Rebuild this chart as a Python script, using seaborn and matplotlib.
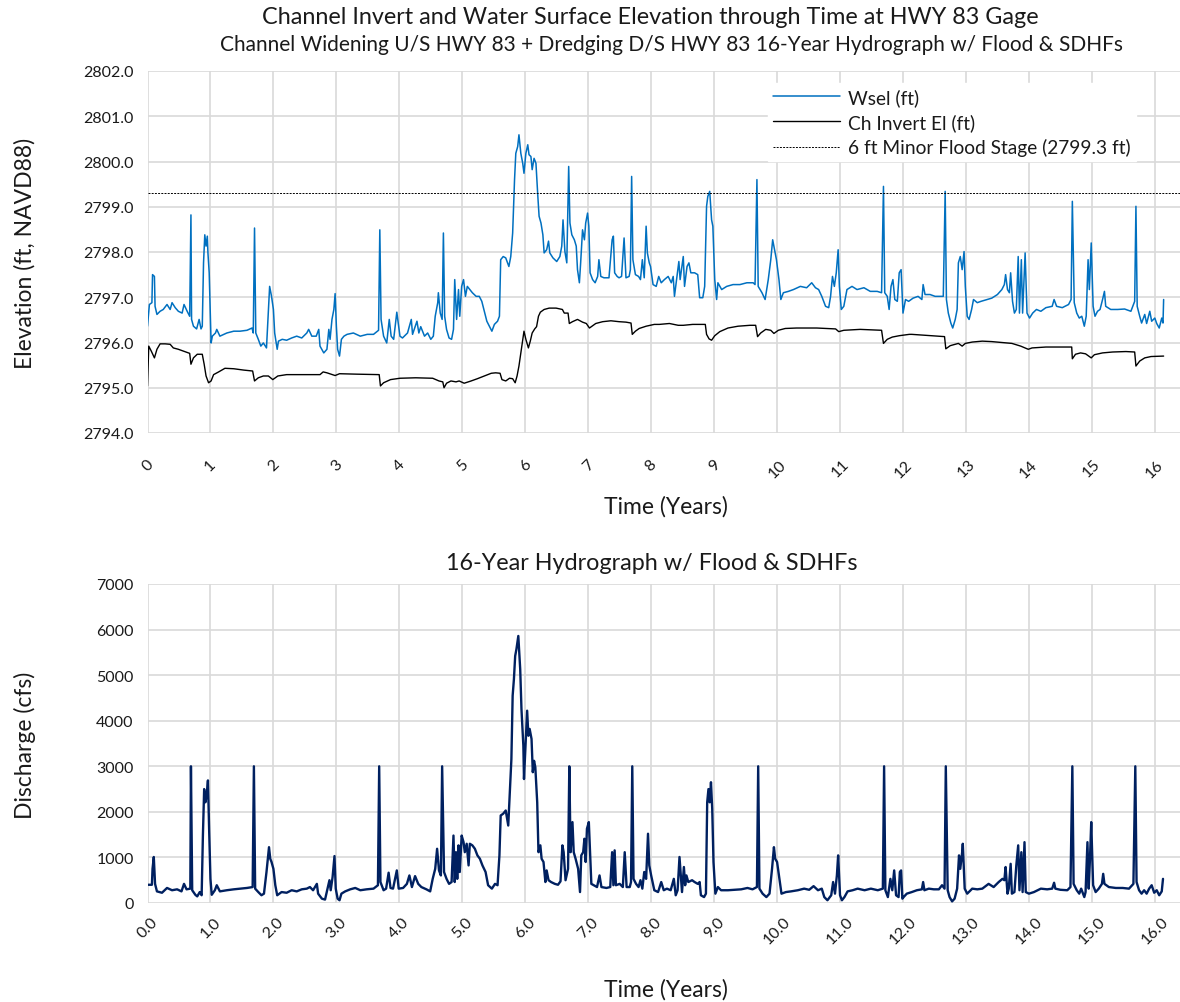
import matplotlib
matplotlib.use("Agg")
import matplotlib.pyplot as plt
import seaborn as sns
import pandas as pd
import numpy as np

# ---------------- data ----------------
wsel_t = [
    0.00, 0.03, 0.07, 0.08, 0.11, 0.12, 0.15, 0.20, 0.25, 0.31,
    0.36, 0.39, 0.44, 0.49, 0.55, 0.58, 0.63, 0.67, 0.69, 0.70,
    0.73, 0.78, 0.82, 0.85, 0.87, 0.89, 0.91, 0.93, 0.95, 0.96,
    0.98, 1.01, 1.03, 1.08, 1.10, 1.15, 1.26, 1.37, 1.47, 1.58,
    1.66, 1.68, 1.70, 1.72, 1.76, 1.80, 1.84, 1.89, 1.91, 1.94,
    1.97, 2.00, 2.02, 2.06, 2.08, 2.14, 2.21, 2.29, 2.37, 2.45,
    2.53, 2.56, 2.61, 2.68, 2.72, 2.74, 2.80, 2.85, 2.88, 2.90,
    2.93, 2.96, 2.98, 3.00, 3.02, 3.05, 3.08, 3.12, 3.17, 3.27,
    3.38, 3.49, 3.59, 3.67, 3.69, 3.71, 3.75, 3.80, 3.84, 3.87,
    3.91, 3.96, 4.01,
    4.05, 4.13, 4.19, 4.21, 4.28, 4.31, 4.34, 4.40, 4.45, 4.50,
    4.54, 4.57, 4.61, 4.62, 4.65, 4.68, 4.70, 4.72, 4.75, 4.79,
    4.83, 4.86, 4.88, 4.91, 4.94, 4.96, 4.99, 5.02, 5.05, 5.08,
    5.12, 5.16, 5.22, 5.27, 5.31, 5.35, 5.39, 5.43, 5.47, 5.51,
    5.56, 5.59, 5.61, 5.65, 5.69, 5.74, 5.77, 5.80, 5.83, 5.85,
    5.88, 5.90, 5.93, 5.96, 5.98, 6.01, 6.04, 6.06, 6.09, 6.11,
    6.14, 6.17, 6.20, 6.22, 6.25, 6.28, 6.30, 6.34, 6.37, 6.39,
    6.44, 6.50, 6.55, 6.58, 6.60, 6.63, 6.66, 6.69, 6.71, 6.74,
    6.78, 6.81, 6.83, 6.86, 6.88, 6.91, 6.94, 6.96, 6.99, 7.01,
    7.03, 7.07, 7.11, 7.15, 7.17, 7.20, 7.25, 7.33, 7.38, 7.40,
    7.42, 7.46, 7.49, 7.53, 7.57, 7.60, 7.65, 7.67, 7.69, 7.71,
    7.75, 7.80, 7.83, 7.86, 7.89, 7.92, 7.94, 7.97, 7.99,
    8.03, 8.08, 8.12, 8.16, 8.21, 8.27, 8.32, 8.35, 8.37, 8.41,
    8.44, 8.46, 8.51, 8.53, 8.57, 8.60, 8.63, 8.69, 8.74, 8.77,
    8.82, 8.85, 8.88, 8.90, 8.93, 8.96, 8.98, 9.01, 9.04, 9.06,
    9.12, 9.20, 9.30, 9.41, 9.52, 9.62, 9.65, 9.68, 9.70, 9.76,
    9.81, 9.86, 9.90, 9.93, 9.97, 9.99, 10.03, 10.06, 10.10, 10.18,
    10.26, 10.37, 10.47, 10.55, 10.61, 10.66, 10.71, 10.77, 10.82, 10.85,
    10.88, 10.91, 10.94, 10.97, 10.99, 11.02, 11.06, 11.11, 11.19, 11.27,
    11.38, 11.48, 11.59, 11.66, 11.69, 11.71, 11.75, 11.78, 11.81, 11.84,
    11.87, 11.91, 11.94, 11.97, 12.00, 12.04,
    12.09, 12.16, 12.24, 12.30, 12.32, 12.35, 12.43, 12.51, 12.59, 12.64,
    12.67, 12.69, 12.72, 12.76, 12.79, 12.83, 12.86, 12.88, 12.91, 12.94,
    12.97, 12.99, 13.02, 13.05, 13.09, 13.12, 13.18, 13.24, 13.34, 13.41,
    13.50, 13.57, 13.61, 13.63, 13.66, 13.69, 13.71, 13.74, 13.77, 13.80,
    13.83, 13.85, 13.88, 13.90, 13.94, 13.97, 14.01, 14.06, 14.12, 14.19,
    14.27, 14.37, 14.40, 14.44, 14.53, 14.63, 14.67, 14.69, 14.72, 14.76,
    14.80, 14.84, 14.88, 14.91, 14.94, 14.96, 14.99, 15.02, 15.05, 15.09,
    15.13, 15.17, 15.20, 15.22, 15.30, 15.41, 15.52, 15.62, 15.68, 15.70,
    15.72, 15.76, 15.79, 15.84, 15.87, 15.92, 15.95, 16.00, 16.03, 16.07,
    16.11, 16.13, 16.14,
]
wsel_ft = [
    2796.36, 2796.84, 2796.88, 2797.50, 2797.46, 2796.80, 2796.62, 2796.69, 2796.73, 2796.84,
    2796.73, 2796.88, 2796.77, 2796.69, 2796.65, 2796.84, 2796.69, 2796.58, 2798.82, 2796.51,
    2796.36, 2796.30, 2796.51, 2796.30, 2796.36, 2797.76, 2798.38, 2798.13, 2798.35, 2797.98,
    2797.54, 2795.99, 2796.14, 2796.21, 2796.29, 2796.14, 2796.21, 2796.25, 2796.25, 2796.27,
    2796.32, 2796.21, 2798.53, 2796.21, 2796.07, 2795.92, 2795.99, 2795.88, 2796.43, 2797.24,
    2797.02, 2796.73, 2796.21, 2795.85, 2796.03, 2796.07, 2796.05, 2796.10, 2796.14, 2796.10,
    2796.21, 2796.29, 2796.14, 2796.14, 2796.29, 2795.92, 2795.77, 2795.85, 2796.29, 2796.07,
    2796.51, 2796.73, 2797.08, 2796.36, 2795.85, 2795.70, 2796.07, 2796.14, 2796.18, 2796.21,
    2796.14, 2796.18, 2796.18, 2796.27, 2798.49, 2796.51, 2796.14, 2795.99, 2796.51, 2796.14,
    2796.07, 2796.67, 2796.14,
    2796.10, 2796.21, 2796.51, 2796.18, 2796.47, 2796.21, 2796.35, 2796.14, 2796.21, 2796.07,
    2796.14, 2796.58, 2796.88, 2797.10, 2796.65, 2796.51, 2798.42, 2796.58, 2796.29, 2796.10,
    2796.07, 2796.29, 2797.39, 2796.51, 2797.17, 2796.58, 2797.24, 2797.39, 2797.02, 2797.24,
    2797.17, 2797.10, 2797.02, 2797.02, 2796.91, 2796.69, 2796.47, 2796.36, 2796.25, 2796.40,
    2796.47, 2796.58, 2797.83, 2797.90, 2797.87, 2797.68, 2797.90, 2798.42, 2799.60, 2800.18,
    2800.33, 2800.59, 2800.18, 2799.96, 2799.74, 2800.18, 2800.37, 2800.15, 2800.11, 2799.82,
    2800.07, 2799.96, 2799.23, 2798.79, 2798.64, 2798.38, 2797.98, 2798.05, 2798.24, 2797.98,
    2797.87, 2797.79, 2797.90, 2798.13, 2798.71, 2798.01, 2797.76, 2799.89, 2798.64, 2798.38,
    2798.27, 2798.13, 2797.61, 2797.32, 2797.76, 2798.49, 2798.27, 2798.64, 2798.86, 2798.57,
    2797.54, 2797.39, 2797.32, 2797.46, 2797.83, 2797.46, 2797.43, 2797.43, 2798.27, 2798.35,
    2797.54, 2797.46, 2797.43, 2797.46, 2798.31, 2797.43, 2797.46, 2797.61, 2799.67, 2797.83,
    2797.50, 2797.46, 2797.39, 2797.83, 2797.43, 2798.57, 2797.98, 2797.76, 2797.68,
    2797.28, 2797.24, 2797.46, 2797.32, 2797.39, 2797.46, 2797.32, 2797.46, 2797.02, 2797.46,
    2797.79, 2797.39, 2797.90, 2797.24, 2797.68, 2797.76, 2797.54, 2797.54, 2797.50, 2796.99,
    2796.99, 2797.24, 2799.01, 2799.23, 2799.34, 2798.71, 2798.57, 2797.39, 2796.95, 2797.32,
    2797.17, 2797.24, 2797.28, 2797.28, 2797.32, 2797.32, 2797.28, 2799.60, 2797.24, 2797.10,
    2796.95, 2797.39, 2797.83, 2798.27, 2797.98, 2797.83, 2797.39, 2796.95, 2797.10, 2797.13,
    2797.17, 2797.24, 2797.21, 2797.32, 2797.21, 2797.17, 2797.02, 2796.80, 2796.77, 2797.02,
    2797.46, 2797.24, 2797.54, 2798.05, 2797.24, 2796.73, 2796.80, 2797.17, 2797.24, 2797.17,
    2797.21, 2797.13, 2797.13, 2797.10, 2799.45, 2797.10, 2797.02, 2796.73, 2797.24, 2797.39,
    2796.95, 2796.91, 2797.54, 2797.61, 2796.65, 2796.95,
    2796.91, 2796.98, 2797.02, 2796.95, 2797.28, 2797.06, 2797.06, 2797.02, 2797.02, 2797.02,
    2799.34, 2796.95, 2796.65, 2796.43, 2796.32, 2796.51, 2796.73, 2797.76, 2797.90, 2797.61,
    2798.01, 2797.24, 2796.58, 2796.51, 2796.73, 2796.95, 2796.88, 2796.91, 2796.95, 2796.98,
    2797.06, 2797.17, 2797.28, 2797.50, 2797.17, 2797.10, 2797.54, 2796.91, 2796.65, 2796.73,
    2797.90, 2796.65, 2797.83, 2796.65, 2797.98, 2796.65, 2796.54, 2796.65, 2796.73, 2796.69,
    2796.77, 2796.80, 2796.95, 2796.80, 2796.77, 2796.84, 2796.95, 2799.12, 2796.88, 2796.65,
    2796.54, 2796.58, 2796.36, 2796.58, 2797.83, 2797.17, 2798.20, 2796.80, 2796.58, 2796.69,
    2796.73, 2796.95, 2797.13, 2796.80, 2796.73, 2796.73, 2796.74, 2796.69, 2796.91, 2799.01,
    2796.80, 2796.58, 2796.43, 2796.62, 2796.42, 2796.69, 2796.47, 2796.54, 2796.42, 2796.32,
    2796.54, 2796.43, 2796.95,
]

invert_t = [
    0.00, 0.02, 0.06, 0.11, 0.15, 0.20, 0.28, 0.36, 0.41, 0.49,
    0.57, 0.67, 0.69, 0.73, 0.79, 0.87, 0.90, 0.93, 0.97, 1.01,
    1.05, 1.13, 1.23, 1.37, 1.53, 1.67, 1.70, 1.76, 1.84, 1.92,
    1.99, 2.07, 2.21, 2.53, 2.74, 2.79, 2.85, 2.98, 3.05, 3.33,
    3.68, 3.70, 3.75, 3.86, 4.01, 4.26, 4.53, 4.63, 4.69, 4.71,
    4.75, 4.82, 4.90, 4.95, 5.03, 5.14, 5.24, 5.35, 5.46, 5.53,
    5.60, 5.63, 5.69, 5.75, 5.80, 5.84, 5.87, 5.90, 5.93, 5.96,
    5.98, 6.01, 6.05, 6.08, 6.11, 6.15, 6.18, 6.21, 6.24, 6.30,
    6.38, 6.49, 6.59, 6.62, 6.68, 6.70, 6.75, 6.83, 6.91, 6.97,
    7.02, 7.06, 7.12, 7.23, 7.36, 7.49, 7.60, 7.68, 7.70, 7.75,
    7.81, 7.92, 8.05, 8.13, 8.29, 8.43, 8.51, 8.66, 8.86, 8.88,
    8.92, 8.96, 9.01, 9.09, 9.22, 9.38, 9.57, 9.66, 9.69, 9.74,
    9.82, 9.90, 9.95, 10.02, 10.13, 10.31, 10.63, 10.93, 10.98, 11.06,
    11.32, 11.66, 11.69, 11.75, 11.83, 11.94, 12.10, 12.14, 12.35, 12.56,
    12.66, 12.68, 12.75, 12.88, 12.94, 12.99, 13.10, 13.26, 13.41, 13.57,
    13.73, 13.87, 13.99, 14.05, 14.27, 14.48, 14.68, 14.69, 14.74, 14.82,
    14.90, 14.99, 15.04, 15.17, 15.33, 15.54, 15.68, 15.70, 15.76, 15.84,
    15.94, 16.14,
]
invert_ft = [
    2795.04, 2795.92, 2795.81, 2795.66, 2795.85, 2795.97, 2795.97, 2795.96, 2795.88, 2795.85,
    2795.81, 2795.76, 2795.52, 2795.66, 2795.74, 2795.74, 2795.52, 2795.26, 2795.11, 2795.15,
    2795.29, 2795.35, 2795.43, 2795.42, 2795.39, 2795.37, 2795.15, 2795.22, 2795.26, 2795.26,
    2795.18, 2795.26, 2795.29, 2795.29, 2795.29, 2795.35, 2795.33, 2795.27, 2795.31, 2795.30,
    2795.29, 2795.04, 2795.11, 2795.18, 2795.21, 2795.22, 2795.21, 2795.15, 2795.13, 2795.00,
    2795.10, 2795.15, 2795.13, 2795.15, 2795.10, 2795.15, 2795.20, 2795.26, 2795.32, 2795.33,
    2795.32, 2795.18, 2795.15, 2795.21, 2795.20, 2795.11, 2795.26, 2795.48, 2795.77, 2796.07,
    2796.25, 2796.07, 2795.88, 2796.03, 2796.21, 2796.30, 2796.35, 2796.58, 2796.67, 2796.73,
    2796.76, 2796.76, 2796.73, 2796.65, 2796.65, 2796.42, 2796.46, 2796.51, 2796.45, 2796.42,
    2796.32, 2796.36, 2796.42, 2796.46, 2796.48, 2796.46, 2796.45, 2796.43, 2796.18, 2796.25,
    2796.31, 2796.36, 2796.40, 2796.40, 2796.42, 2796.38, 2796.38, 2796.40, 2796.40, 2796.18,
    2796.08, 2796.05, 2796.15, 2796.24, 2796.32, 2796.36, 2796.38, 2796.38, 2796.13, 2796.21,
    2796.29, 2796.27, 2796.20, 2796.27, 2796.31, 2796.32, 2796.32, 2796.30, 2796.24, 2796.27,
    2796.29, 2796.27, 2795.98, 2796.07, 2796.12, 2796.15, 2796.18, 2796.18, 2796.16, 2796.14,
    2796.13, 2795.86, 2795.93, 2795.98, 2795.92, 2795.98, 2796.01, 2796.03, 2796.02, 2796.00,
    2795.98, 2795.92, 2795.85, 2795.88, 2795.90, 2795.90, 2795.90, 2795.64, 2795.74, 2795.77,
    2795.75, 2795.66, 2795.73, 2795.77, 2795.79, 2795.80, 2795.79, 2795.48, 2795.59, 2795.66,
    2795.69, 2795.70,
]

flood_stage_ft = 2799.3

q_t = [
    0.00, 0.07, 0.08, 0.10, 0.12, 0.15, 0.23, 0.31, 0.39, 0.47,
    0.54, 0.58, 0.62, 0.68, 0.69, 0.71, 0.76, 0.79, 0.83, 0.86,
    0.88, 0.90, 0.92, 0.94, 0.96, 0.98, 1.00, 1.02, 1.07, 1.10,
    1.15, 1.26, 1.37, 1.47, 1.58, 1.67, 1.69, 1.71, 1.76, 1.81,
    1.85, 1.89, 1.93, 1.95, 1.97, 2.00, 2.03, 2.06, 2.13, 2.21,
    2.29, 2.37, 2.45, 2.53, 2.58, 2.63, 2.69, 2.71, 2.77, 2.82,
    2.86, 2.89, 2.91, 2.94, 2.97, 2.99, 3.02, 3.05, 3.08, 3.14,
    3.22, 3.30, 3.38, 3.48, 3.59, 3.66, 3.68, 3.70, 3.75, 3.79,
    3.83, 3.86, 3.90, 3.96, 3.99, 4.06, 4.12, 4.16, 4.20, 4.25,
    4.30, 4.35, 4.43, 4.49, 4.53, 4.57, 4.60, 4.63, 4.66, 4.68,
    4.71, 4.75, 4.79, 4.83, 4.86, 4.88, 4.90, 4.92, 4.94, 4.96,
    4.99, 5.02, 5.04, 5.07, 5.10, 5.12, 5.16, 5.20, 5.24, 5.28,
    5.32, 5.37, 5.41, 5.47, 5.52, 5.56, 5.59, 5.61, 5.65, 5.69,
    5.73, 5.76, 5.78, 5.80, 5.82, 5.84, 5.86, 5.89, 5.92, 5.94,
    5.97, 5.98, 6.01, 6.03, 6.05,
    6.07, 6.10, 6.12, 6.14, 6.16, 6.19, 6.21, 6.24, 6.26, 6.29,
    6.32, 6.34, 6.37, 6.41, 6.47, 6.52, 6.56, 6.59, 6.61, 6.64,
    6.68, 6.70, 6.72, 6.75, 6.77, 6.80, 6.84, 6.87, 6.89, 6.92,
    6.94, 6.96, 6.98, 7.01, 7.03, 7.05, 7.09, 7.14, 7.18, 7.21,
    7.29, 7.35, 7.38, 7.40, 7.42, 7.44, 7.50, 7.55, 7.58, 7.61,
    7.66, 7.68, 7.70, 7.72, 7.76, 7.80, 7.83, 7.86, 7.89, 7.92,
    7.95, 7.97, 8.00, 8.05, 8.11, 8.16, 8.20, 8.25, 8.31, 8.36,
    8.39, 8.42, 8.45, 8.49, 8.52, 8.54, 8.56, 8.59, 8.65, 8.69,
    8.74, 8.77, 8.79, 8.84, 8.87, 8.89, 8.91, 8.93, 8.95, 8.97,
    8.99, 9.02, 9.06, 9.11, 9.22, 9.32, 9.43, 9.53, 9.61, 9.68,
    9.70, 9.72, 9.77, 9.83, 9.88, 9.92, 9.95, 9.97, 10.00, 10.04,
    10.07, 10.14, 10.22, 10.33, 10.43, 10.51, 10.58, 10.65, 10.71, 10.75,
    10.80, 10.86, 10.89, 10.92, 10.95, 10.97, 11.00, 11.03, 11.07, 11.12,
    11.20, 11.28, 11.39, 11.49, 11.60, 11.68, 11.70, 11.72, 11.76, 11.80,
    11.83, 11.86, 11.89, 11.93, 11.95, 11.97, 11.99,
    12.01, 12.06, 12.14, 12.22, 12.30, 12.32, 12.34, 12.41, 12.49, 12.57,
    12.62, 12.66, 12.68, 12.71, 12.74, 12.78, 12.82, 12.86, 12.89, 12.91,
    12.94, 12.95, 12.98, 13.02, 13.10, 13.18, 13.26, 13.36, 13.44, 13.52,
    13.58, 13.61, 13.63, 13.66, 13.68, 13.71, 13.73, 13.77, 13.80, 13.83,
    13.85, 13.88, 13.90, 13.93, 13.95, 14.00, 14.08, 14.19, 14.29, 14.37,
    14.40, 14.42, 14.50, 14.61, 14.66, 14.69, 14.71, 14.76, 14.80, 14.83,
    14.88, 14.90, 14.93, 14.95, 14.97, 14.99, 15.02, 15.06, 15.11, 15.16,
    15.18, 15.20, 15.27, 15.38, 15.49, 15.59, 15.66, 15.69, 15.71, 15.75,
    15.79, 15.83, 15.87, 15.91, 15.95, 15.99, 16.03, 16.07, 16.11, 16.13,
]
q_cfs = [
    400, 400, 750, 1010, 420, 255, 225, 330, 280, 300,
    255, 420, 300, 315, 3000, 280, 180, 145, 240, 170,
    1480, 2500, 2210, 2360, 2690, 1555, 530, 180, 280, 390,
    255, 280, 300, 315, 330, 350, 3000, 315, 240, 170,
    205, 680, 1225, 970, 900, 750, 390, 170, 240, 225,
    280, 255, 300, 315, 350, 280, 420, 205, 95, 75,
    315, 500, 280, 570, 1030, 315, 95, 60, 205, 255,
    300, 330, 280, 300, 315, 390, 3000, 460, 280, 315,
    665, 330, 315, 715, 315, 330, 420, 605, 350, 590,
    420, 350, 300, 255, 530, 750, 1190, 715, 605, 3000,
    680, 530, 420, 460, 1480, 460, 1115, 530, 1265, 680,
    1480, 1335, 1115, 1300, 825, 1300, 1265, 1190, 1045, 970,
    825, 680, 390, 315, 420, 390, 1045, 1920, 1960, 2030,
    1700, 2580, 3160, 4550, 4910, 5420, 5570, 5860, 5130, 4255,
    3450, 2720, 3600, 4220, 3670,
    3820, 3600, 2870, 3120, 2980, 2210, 1115, 1265, 970, 900,
    460, 715, 500, 460, 420, 400, 475, 1265, 1115, 500,
    750, 3000, 1115, 1775, 1115, 970, 750, 240, 1045, 1115,
    1410, 900, 1630, 1775, 1115, 420, 390, 350, 605, 350,
    330, 350, 1115, 390, 1155, 390, 420, 350, 1115, 350,
    350, 460, 3000, 530, 420, 350, 500, 315, 680, 530,
    1520, 825, 605, 280, 240, 460, 280, 315, 280, 530,
    170, 280, 1010, 240, 790, 390, 605, 460, 500, 460,
    420, 460, 170, 130, 205, 2210, 2500, 2210, 2650, 2065,
    900, 205, 350, 280, 280, 290, 300, 330, 300, 350,
    3000, 315, 205, 130, 205, 750, 1225, 970, 900, 500,
    205, 240, 255, 280, 315, 290, 370, 280, 315, 130,
    60, 170, 460, 205, 605, 1045, 170, 60, 130, 255,
    280, 315, 280, 315, 280, 315, 3000, 280, 130, 530,
    280, 715, 170, 130, 680, 715, 95,
    130, 205, 240, 280, 300, 460, 280, 315, 300, 300,
    390, 315, 3000, 280, 130, 35, 95, 315, 1045, 750,
    1115, 1300, 315, 205, 315, 300, 315, 420, 350, 460,
    530, 500, 790, 205, 315, 860, 205, 240, 825, 1265,
    280, 1115, 240, 1335, 240, 205, 240, 315, 300, 315,
    445, 315, 290, 280, 350, 3000, 420, 280, 205, 315,
    130, 240, 1335, 315, 970, 1775, 390, 240, 315, 420,
    640, 420, 350, 330, 330, 315, 420, 3000, 460, 280,
    205, 280, 205, 315, 390, 225, 280, 170, 255, 530,
]

top_xticks = list(range(0, 17))
top_xticklabels = [str(v) for v in top_xticks]
top_yticks = [2794, 2795, 2796, 2797, 2798, 2799, 2800, 2801, 2802]
top_yticklabels = [f"{v:.1f}" for v in top_yticks]
bot_xticks = list(range(0, 17))
bot_xticklabels = [f"{v:.1f}" for v in bot_xticks]
bot_yticks = [0, 1000, 2000, 3000, 4000, 5000, 6000, 7000]
bot_yticklabels = [str(v) for v in bot_yticks]

title_main = "Channel Invert and Water Surface Elevation through Time at HWY 83 Gage"
title_sub = "Channel Widening U/S HWY 83 + Dredging D/S HWY 83 16-Year Hydrograph w/ Flood & SDHFs"
title_bottom = "16-Year Hydrograph w/ Flood & SDHFs"

# ---------------- figure ----------------
sns.set_theme(style="whitegrid")
plt.rcParams['font.family'] = ['Lato', 'DejaVu Sans']
TXT = '#1a1a1a'
GRID = '#d9d9d9'

W, H = 1180, 1003
fig = plt.figure(figsize=(W / 100, H / 100), dpi=100)
fig.patch.set_facecolor('white')

def fx(px):
    return px / W

def fy(py):
    return 1 - py / H

ax1 = fig.add_axes([fx(147.5), fy(434), fx(1180) - fx(147.5), fy(72) - fy(434)])
ax2 = fig.add_axes([fx(147.5), fy(904), fx(1180) - fx(147.5), fy(585) - fy(904)])

df_w = pd.DataFrame({"t": wsel_t, "v": wsel_ft})
df_i = pd.DataFrame({"t": invert_t, "v": invert_ft})
df_q = pd.DataFrame({"t": q_t, "v": q_cfs})

sns.lineplot(data=df_w, x="t", y="v", ax=ax1, color='#0070C0', lw=1.1,
             estimator=None, sort=False, label='Wsel (ft)')
sns.lineplot(data=df_i, x="t", y="v", ax=ax1, color='black', lw=1.0,
             estimator=None, sort=False, label='Ch Invert El (ft)')
ax1.axhline(flood_stage_ft, color='black', lw=0.7, ls=(0, (2.0, 1.3)),
            label='6 ft Minor Flood Stage (2799.3 ft)')

sns.lineplot(data=df_q, x="t", y="v", ax=ax2, color='#002060', lw=1.7,
             estimator=None, sort=False, legend=False)

for ax in (ax1, ax2):
    ax.set_facecolor('white')
    ax.set_xlim(0, 16.4)
    ax.grid(True, color=GRID, lw=1.2)
    for s in ax.spines.values():
        s.set_visible(False)
    ax.tick_params(length=0, colors=TXT, labelsize=11.5)
    ax.set_xlabel("")
    ax.set_ylabel("")

ax1.set_ylim(2794, 2802)
ax1.set_yticks(top_yticks)
ax1.set_yticklabels(top_yticklabels)
ax1.set_xticks(top_xticks)
ax1.set_xticklabels(top_xticklabels, rotation=45, ha='center')
ax1.tick_params(axis='x', pad=17)
ax1.tick_params(axis='y', pad=10)

ax2.set_ylim(0, 7000)
ax2.set_yticks(bot_yticks)
ax2.set_yticklabels(bot_yticklabels)
ax2.set_xticks(bot_xticks)
ax2.set_xticklabels(bot_xticklabels, rotation=45, ha='center')
ax2.tick_params(axis='x', pad=8)
ax2.tick_params(axis='y', pad=10)

leg = ax1.legend(loc='upper left', bbox_to_anchor=(fx(768), fy(84)),
                 bbox_transform=fig.transFigure, frameon=True, fancybox=False,
                 facecolor='white', edgecolor='white', framealpha=1,
                 fontsize=13.8, handlelength=3.5, handletextpad=0.45,
                 labelspacing=0.38, borderpad=0.25, borderaxespad=0)
for txt in leg.get_texts():
    txt.set_color(TXT)

fig.text(fx(650), fy(18), title_main, ha='center', va='center', fontsize=16.8, color=TXT)
fig.text(fx(671), fy(45), title_sub, ha='center', va='center', fontsize=15, color=TXT)
fig.text(fx(652), fy(563), title_bottom, ha='center', va='center', fontsize=16.8, color=TXT)
fig.text(fx(666), fy(507), "Time (Years)", ha='center', va='center', fontsize=16.5, color=TXT)
fig.text(fx(666), fy(990), "Time (Years)", ha='center', va='center', fontsize=16.5, color=TXT)
fig.text(fx(25), fy(253), "Elevation (ft, NAVD88)", ha='center', va='center',
         rotation=90, fontsize=16.5, color=TXT)
fig.text(fx(25), fy(745), "Discharge (cfs)", ha='center', va='center',
         rotation=90, fontsize=16.5, color=TXT)

fig.savefig("out.png", dpi=100, facecolor='white')
